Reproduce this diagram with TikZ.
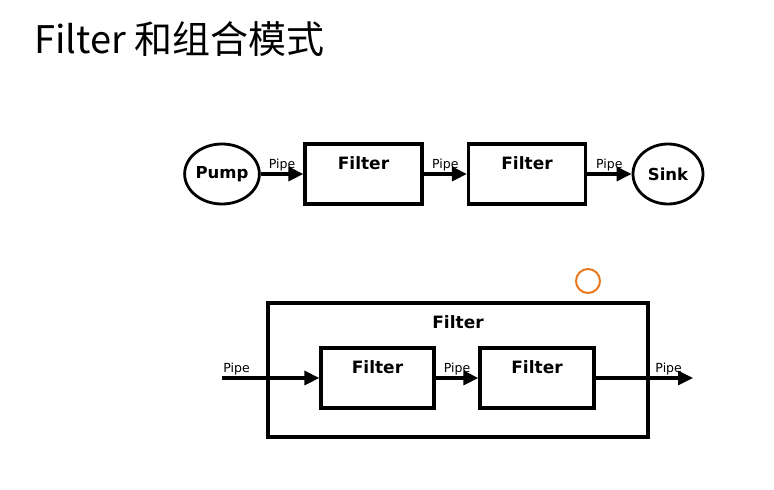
\documentclass[tikz,border=0pt]{standalone}
\usepackage{fontspec}
\setmainfont{DejaVu Sans}
\newfontfamily\cjkfont{Noto Sans CJK SC}
\usetikzlibrary{arrows.meta,positioning,shapes.geometric}
\definecolor{markorange}{HTML}{E8791E}
\definecolor{boxline}{HTML}{000000}

\tikzset{
  filterbox/.style={draw=boxline,line width=3.2pt,rectangle,minimum height=60pt},
  endpoint/.style={draw=boxline,line width=2.8pt,ellipse,minimum width=70pt,minimum height=60pt,
    inner sep=0pt,font=\fontsize{16.5}{18}\selectfont\bfseries},
  boxtext/.style={font=\fontsize{17}{19}\selectfont\bfseries,inner sep=0pt},
  pipe/.style={line width=3.2pt,-{Triangle[length=15pt,width=14pt]}},
  pipelabel/.style={font=\fontsize{12.5}{14}\selectfont,inner sep=1pt,above}
}

\begin{document}
\begin{tikzpicture}[x=1pt,y=-1pt]
  \useasboundingbox (0,0) rectangle (774,490);
  \node[anchor=base west,inner sep=0pt,font=\fontsize{38}{44}\selectfont\cjkfont] (title) at (34,53)
    {Filter 和组合模式};

  \node[endpoint] (pump) at (222,174) {Pump};
  \node[filterbox,minimum width=117pt] (f1) at (363.5,174) {};
  \node[filterbox,minimum width=117pt] (f2) at (527,174) {};
  \node[endpoint] (sink) at (668,174) {Sink};
  \node[boxtext] (f1t) at ([yshift=-21pt]f1.north) {Filter};
  \node[boxtext] (f2t) at ([yshift=-21pt]f2.north) {Filter};
  \draw[pipe] (pump) -- (f1) node[pipelabel,midway] (p1) {Pipe};
  \draw[pipe] (f1) -- (f2) node[pipelabel,midway] (p2) {Pipe};
  \draw[pipe] (f2) -- (sink) node[pipelabel,midway] (p3) {Pipe};

  \draw[markorange,line width=2pt] (588,281) circle (12);

  \node[filterbox,minimum width=380pt,minimum height=134pt] (outer) at (458,370) {};
  \node[boxtext] (outert) at ([yshift=-21pt]outer.north) {Filter};
  \node[filterbox,minimum width=113pt] (g1) at (377.5,378) {};
  \node[filterbox,minimum width=114pt] (g2) at (537,378) {};
  \node[boxtext] (g1t) at ([yshift=-21pt]g1.north) {Filter};
  \node[boxtext] (g2t) at ([yshift=-21pt]g2.north) {Filter};
  \coordinate (pin) at (222,378);
  \coordinate (pout) at (693,378);
  \draw[pipe] (pin) -- (g1) node[pipelabel,pos=0.15] (q1) {Pipe};
  \draw[pipe] (g1) -- (g2) node[pipelabel,midway] (q2) {Pipe};
  \draw[pipe] (g2) -- (pout) node[pipelabel,pos=0.75] (q3) {Pipe};
\end{tikzpicture}
\end{document}
